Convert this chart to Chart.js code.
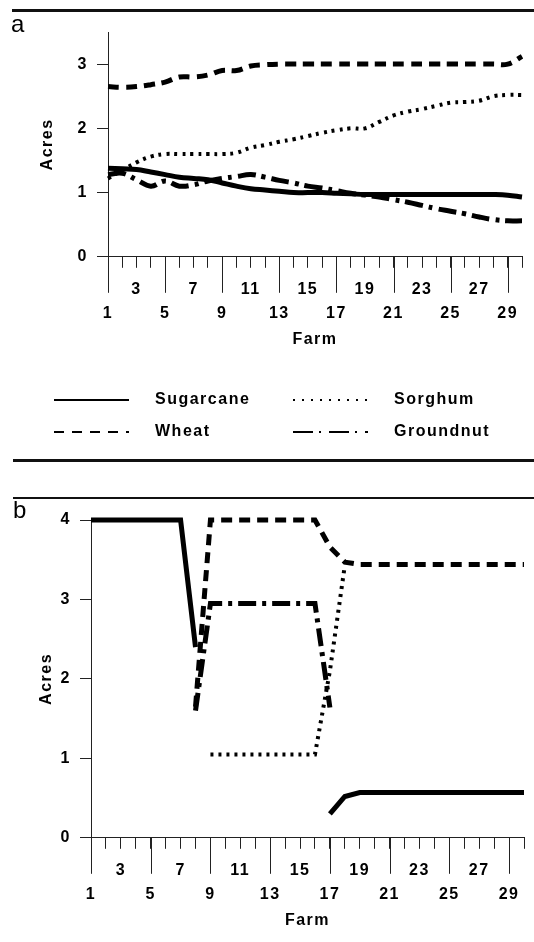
<!DOCTYPE html>
<html>
<head>
<meta charset="utf-8">
<script src="https://cdn.jsdelivr.net/npm/chart.js@4.4.1/dist/chart.umd.min.js"></script>
<style>
  html, body { margin: 0; padding: 0; background: #fff; }
  #page { position: relative; width: 534px; height: 942px; overflow: hidden; font-family: "Liberation Sans", Arial, sans-serif; }
  .rule { position: absolute; left: 12px; right: 0; background: #111; }
  .panel { position: absolute; left: 0; width: 534px; }
  .tag { position: absolute; font-size: 24px; line-height: 1; color: #000; }
</style>
</head>
<body>
<div id="page">
  <div class="panel" style="top:0;height:458px"><canvas id="chartA"></canvas></div>
  <div class="panel" style="top:499px;height:443px"><canvas id="chartB"></canvas></div>
  <div class="rule" style="top:9px;height:3px"></div>
  <div class="rule" style="top:459px;height:3px;left:13px"></div>
  <div class="rule" style="top:497px;height:2px;left:13px"></div>
  <div class="tag" style="left:11px;top:12px">a</div>
  <div class="tag" style="left:13px;top:498px">b</div>
</div>
<script>
// farms on the x axis
const farms = ["1","2","3","4","5","6","7","8","9","10","11","12","13","14","15",
               "16","17","18","19","20","21","22","23","24","25","26","27","28","29","30"];

// panel a
const aSugarcane = [1.38,1.37,1.36,1.32,1.28,1.24,1.22,1.20,1.15,1.10,1.06,1.04,1.02,1.00,1.00,
                    1.00,0.99,0.98,0.97,0.97,0.97,0.97,0.97,0.97,0.97,0.97,0.97,0.97,0.96,0.93];
const aSorghum   = [1.22,1.35,1.47,1.56,1.60,1.60,1.60,1.60,1.60,1.62,1.70,1.74,1.79,1.83,1.88,
                    1.93,1.97,2.00,2.00,2.10,2.20,2.26,2.30,2.35,2.40,2.41,2.43,2.50,2.52,2.52];
const aWheat     = [2.65,2.64,2.65,2.68,2.72,2.80,2.80,2.83,2.90,2.90,2.97,2.99,3.00,3.00,3.00,
                    3.00,3.00,3.00,3.00,3.00,3.00,3.00,3.00,3.00,3.00,3.00,3.00,3.00,3.00,3.12];
const aGroundnut = [1.28,1.30,1.20,1.10,1.18,1.10,1.12,1.18,1.22,1.25,1.28,1.24,1.19,1.15,1.10,
                    1.07,1.03,0.99,0.96,0.93,0.89,0.85,0.80,0.75,0.71,0.67,0.62,0.58,0.56,0.56];

// panel b (null = crop not grown)
const bSugarcane = [4,4,4,4,4,4,4,2.4,null,null,null,null,null,null,null,
                    null,0.3,0.52,0.57,0.57,0.57,0.57,0.57,0.57,0.57,0.57,0.57,0.57,0.57,0.57];
const bSorghum   = [null,null,null,null,null,null,null,null,1.05,1.05,1.05,1.05,1.05,1.05,1.05,
                    1.05,2.1,3.43,null,null,null,null,null,null,null,null,null,null,null,null];
const bWheat     = [null,null,null,null,null,null,null,1.65,4,4,4,4,4,4,4,
                    4,3.66,3.47,3.44,3.44,3.44,3.44,3.44,3.44,3.44,3.44,3.44,3.44,3.44,3.44];
const bGroundnut = [null,null,null,null,null,null,null,1.6,2.95,2.95,2.95,2.95,2.95,2.95,2.95,
                    2.95,1.64,null,null,null,null,null,null,null,null,null,null,null,null,null];

const yTicksA = [0, 1, 2, 3];
const yTicksB = [0, 1, 2, 3, 4];

Chart.defaults.font.family = '"Liberation Sans", Arial, sans-serif';
Chart.defaults.font.size = 16;
Chart.defaults.font.weight = 'bold';
Chart.defaults.color = '#000';

const looks = {
  Sugarcane: { dash: [],            width: 5, legendDash: [] },
  Sorghum:   { dash: [3, 5],        width: 4, legendDash: [2, 7] },
  Wheat:     { dash: [11, 7],       width: 5, legendDash: [10, 8] },
  Groundnut: { dash: [18, 6, 4, 6], width: 5, legendDash: [20, 6, 2, 8] }
};

function series(label, values, tension) {
  return {
    label,
    data: values,
    borderColor: '#000',
    borderWidth: looks[label].width,
    borderDash: looks[label].dash,
    pointRadius: 0,
    fill: false,
    tension,
    spanGaps: false,
    clip: false
  };
}

// spaced-out lettering like the scan
const spacing = {
  id: 'spacing',
  beforeUpdate(chart) { chart.ctx.letterSpacing = '1.5px'; },
  beforeDraw(chart) { chart.ctx.letterSpacing = '1.5px'; }
};

// every fourth farm gets a long tick
const longTicks = {
  id: 'longTicks',
  afterDraw(chart) {
    const x = chart.scales.x;
    const ctx = chart.ctx;
    ctx.save();
    ctx.strokeStyle = '#222';
    ctx.lineWidth = 1;
    farms.forEach((f, i) => {
      if (i % 4 !== 0) return;
      const px = Math.round(x.getPixelForValue(i)) + 0.5;
      ctx.beginPath();
      ctx.moveTo(px, x.top);
      ctx.lineTo(px, x.top + 36);
      ctx.stroke();
    });
    ctx.restore();
  }
};

// two-column legend under panel a
const gridLegend = {
  id: 'gridLegend',
  afterDraw(chart) {
    const ctx = chart.ctx;
    const base = chart.scales.x.bottom;
    const cols = [54, 293];
    ctx.save();
    ctx.letterSpacing = '1.5px';
    ctx.font = 'bold 16px "Liberation Sans", Arial, sans-serif';
    ctx.fillStyle = '#000';
    ctx.textBaseline = 'middle';
    chart.data.datasets.forEach((ds, i) => {
      const x = cols[i % 2];
      const y = base + 51 + Math.floor(i / 2) * 32;
      ctx.strokeStyle = '#000';
      ctx.lineWidth = 2;
      ctx.setLineDash(looks[ds.label].legendDash);
      ctx.beginPath();
      ctx.moveTo(x, y);
      ctx.lineTo(x + 75, y);
      ctx.stroke();
      ctx.fillText(ds.label, x + 101, y);
    });
    ctx.restore();
  }
};

function farmLabel(v, i) {
  if (i % 4 === 0) return ['', farms[i]];
  if (i % 4 === 2) return [farms[i]];
  return '';
}

function options(yMax, yTicks, pad, yWidth) {
  return {
    responsive: true,
    maintainAspectRatio: false,
    animation: false,
    layout: { padding: pad },
    plugins: { legend: { display: false }, tooltip: { enabled: false } },
    scales: {
      x: {
        offset: false,
        grid: { drawOnChartArea: false, drawTicks: true, tickLength: 11, color: '#222', lineWidth: 1 },
        border: { display: true, color: '#222', width: 1 },
        ticks: {
          autoSkip: false, maxRotation: 0, minRotation: 0, padding: 10,
          font: { size: 16, weight: 'bold', lineHeight: 1.5 },
          callback: farmLabel
        },
        title: { display: true, text: 'Farm', padding: { top: -6, bottom: 0 } }
      },
      y: {
        min: 0,
        max: yMax,
        afterBuildTicks: s => { s.ticks = yTicks.map(v => ({ value: v })); },
        grid: { drawOnChartArea: false, tickLength: 11, color: '#222' },
        border: { display: true, color: '#222', width: 1 },
        ticks: { padding: 9 },
        title: { display: true, text: 'Acres', padding: 0 },
        afterFit: s => { s.width = yWidth; }
      }
    }
  };
}

new Chart(document.getElementById('chartA'), {
  type: 'line',
  data: {
    labels: farms,
    datasets: [
      series('Sugarcane', aSugarcane, 0.4),
      series('Sorghum', aSorghum, 0.4),
      series('Wheat', aWheat, 0.4),
      series('Groundnut', aGroundnut, 0.4)
    ]
  },
  options: options(3.5, yTicksA, { top: 32, right: 12, bottom: 109, left: 38 }, 70),
  plugins: [spacing, longTicks, gridLegend]
});

new Chart(document.getElementById('chartB'), {
  type: 'line',
  data: {
    labels: farms,
    datasets: [
      series('Sugarcane', bSugarcane, 0),
      series('Sorghum', bSorghum, 0),
      series('Wheat', bWheat, 0),
      series('Groundnut', bGroundnut, 0)
    ]
  },
  options: options(4, yTicksB, { top: 21, right: 10, bottom: 12, left: 37 }, 54),
  plugins: [spacing, longTicks]
});
</script>
</body>
</html>
